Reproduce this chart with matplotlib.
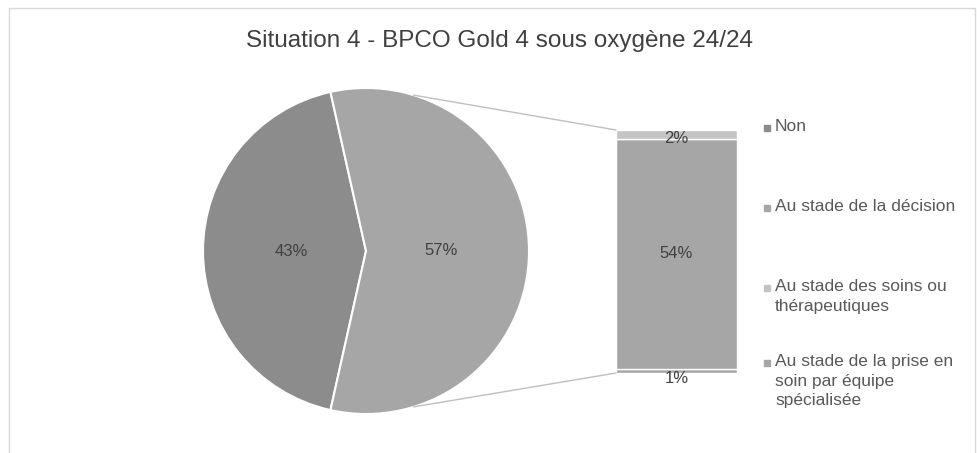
import matplotlib
matplotlib.use("Agg")
import matplotlib.pyplot as plt
from matplotlib.patches import ConnectionPatch, Rectangle
import numpy as np

plt.rcParams['font.family'] = ['Liberation Sans', 'DejaVu Sans']

title = "Situation 4 - BPCO Gold 4 sous oxygène 24/24"
pie_labels = ["Non", "Autres"]
pie_values = [43, 57]
bar_categories = ["Au stade de la prise en soin par équipe spécialisée",
                  "Au stade de la décision",
                  "Au stade des soins ou thérapeutiques"]
bar_values = [1, 54, 2]          # bottom -> top
legend_labels = ["Non", "Au stade de la décision",
                 "Au stade des soins ou\nthérapeutiques",
                 "Au stade de la prise en\nsoin par équipe\nspécialisée"]

W, H = 977, 453
fig = plt.figure(figsize=(W / 100, H / 100), dpi=100)

def fbox(x0, y0, x1, y1):
    return [x0 / W, 1 - y1 / H, (x1 - x0) / W, (y1 - y0) / H]

# outer frame
fig.patches.append(Rectangle((9 / W, -0.1), 966 / W, 1.1 - 8 / H, transform=fig.transFigure,
                             fill=False, edgecolor="#d9d9d9", linewidth=1))

fig.text(500 / W, 1 - 41 / H, title, ha="center", va="center", fontsize=17.5, color="#404040")

# pie
cx, cy, r = 366, 251, 163
axp = fig.add_axes(fbox(cx - r, cy - r, cx + r, cy + r))
start = 180 - 360 * pie_values[0] / 100 / 2
wedges, texts, autotexts = axp.pie(pie_values, colors=["#8c8c8c", "#a6a6a6"], startangle=start,
                                   autopct=lambda p: f"{p:.0f}%", pctdistance=0.46,
                                   wedgeprops=dict(edgecolor="white", linewidth=1.5),
                                   textprops=dict(fontsize=12, color="#404040"))
axp.set_xlim(-1, 1)
axp.set_ylim(-1, 1)
axp.set_aspect("equal")
axp.axis("off")

# bar
axb = fig.add_axes(fbox(616, 130, 737, 373))
bar_colors = ["#a6a6a6", "#a6a6a6", "#c4c4c4"]
bottoms = np.concatenate([[0], np.cumsum(bar_values)[:-1]])
bars = axb.bar(0, bar_values, bottom=bottoms, width=1, color=bar_colors,
               edgecolor="white", linewidth=1)
axb.set_xlim(-0.5, 0.5)
axb.set_ylim(0, sum(bar_values))
axb.axis("off")
for v, b in zip(bar_values, bottoms):
    if v < 1.5:
        axb.text(0, b - 1.4, f"{v}%", ha="center", va="center", fontsize=12, color="#404040")
    else:
        axb.text(0, b + v / 2 - (1.0 if v < 5 else 0), f"{v}%", ha="center", va="center",
                 fontsize=12, color="#404040")

# connectors
ang = np.deg2rad(73)
for sgn, yb in [(1, sum(bar_values)), (-1, 0)]:
    con = ConnectionPatch(xyA=(np.cos(ang), sgn * np.sin(ang)), coordsA=axp.transData,
                          xyB=(-0.5, yb), coordsB=axb.transData, color="#bfbfbf", linewidth=1)
    fig.add_artist(con)

# legend (manual)
leg_colors = ["#8c8c8c", "#a6a6a6", "#c4c4c4", "#a6a6a6"]
leg_y = [128, 208, 288, 363]
for lab, col, y in zip(legend_labels, leg_colors, leg_y):
    fig.patches.append(Rectangle((764 / W, 1 - (y + 3) / H), 6 / W, 6 / H,
                                 transform=fig.transFigure, color=col))
    fig.text(775 / W, 1 - (y - 9) / H, lab, ha="left", va="top", fontsize=12.5,
             color="#595959", linespacing=1.38)

fig.savefig("out.png", dpi=100, facecolor="white")
